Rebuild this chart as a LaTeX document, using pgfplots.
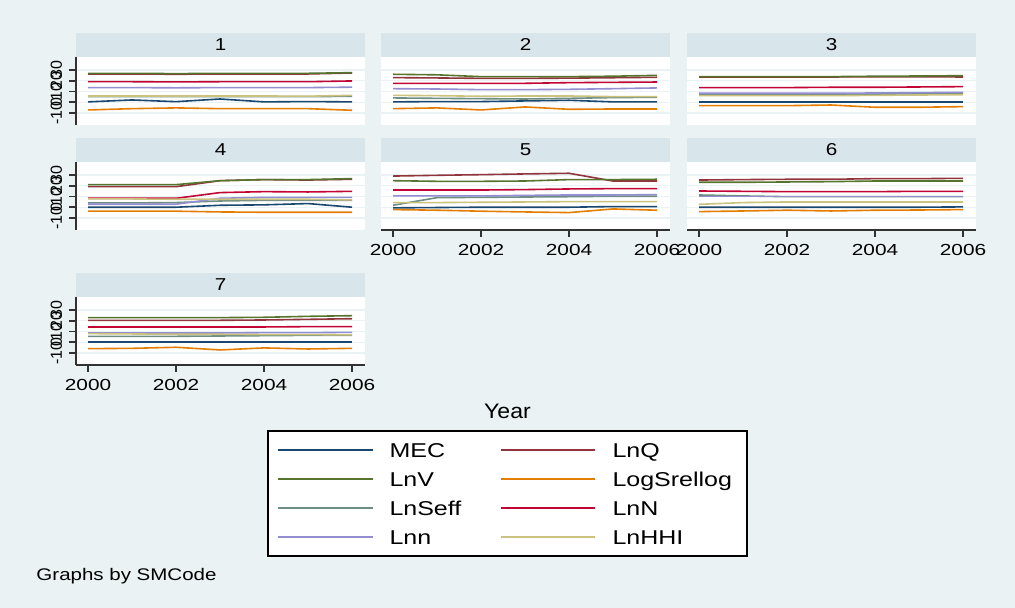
\documentclass[border=0pt]{standalone}
\usepackage{pgfplots}
\usepackage{pgfplotstable}
\pgfplotsset{compat=1.18}
\usepackage{fontspec}
\setmainfont{Liberation Sans}
\usetikzlibrary{calc}

\definecolor{bgc}{RGB}{234,242,243}
\definecolor{stripc}{RGB}{216,229,235}
\definecolor{axc}{RGB}{50,50,50}
\definecolor{cMEC}{RGB}{26,71,111}
\definecolor{cLnQ}{RGB}{144,53,59}
\definecolor{cLnV}{RGB}{85,117,47}
\definecolor{cLog}{RGB}{227,126,0}
\definecolor{cSeff}{RGB}{110,142,132}
\definecolor{cLnN}{RGB}{193,5,52}
\definecolor{cLnn}{RGB}{147,141,210}
\definecolor{cHHI}{RGB}{202,194,126}

% one table per SMCode group
\pgfplotstableread{
year MEC LnQ LnV LogSrellog LnSeff LnN Lnn LnHHI
2000 0.3 26.3 26.9 -7.2 5.2 19.1 13.6 5.8
2001 2.1 26.3 26.9 -6.0 5.2 19.1 13.6 5.8
2002 0.5 26.0 26.6 -5.3 5.2 18.9 13.4 5.8
2003 3.0 26.3 26.9 -6.0 5.2 19.1 13.6 5.8
2004 0.3 26.3 26.9 -6.0 5.2 19.1 13.6 5.8
2005 0.6 26.3 26.9 -6.0 5.2 19.1 13.6 5.6
2006 0.3 27.2 27.5 -7.5 5.5 19.8 14.0 6.4
}\tabA
\pgfplotstableread{
year MEC LnQ LnV LogSrellog LnSeff LnN Lnn LnHHI
2000 0.3 22.9 26.0 -6.0 4.0 17.6 12.6 6.4
2001 0.6 22.6 25.5 -5.3 3.6 17.6 12.3 6.1
2002 0.6 22.2 23.8 -7.2 3.3 17.6 11.7 5.5
2003 1.2 22.2 23.8 -4.4 3.0 17.6 11.7 5.8
2004 1.8 22.4 23.8 -6.6 3.6 18.2 12.0 5.8
2005 0.3 22.8 24.2 -6.3 4.3 18.5 12.6 5.2
2006 0.3 23.2 25.0 -6.3 4.6 18.8 13.3 5.2
}\tabB
\pgfplotstableread{
year MEC LnQ LnV LogSrellog LnSeff LnN Lnn LnHHI
2000 0.0 23.5 23.8 -3.2 7.4 13.6 8.3 6.1
2001 0.0 23.5 23.8 -3.2 7.4 13.6 8.3 6.1
2002 0.0 23.5 23.8 -3.2 7.4 13.6 8.3 6.1
2003 0.0 23.5 23.8 -2.6 7.4 13.9 8.3 6.1
2004 0.0 23.6 24.2 -4.7 7.6 13.9 8.6 6.4
2005 0.0 23.6 24.4 -4.7 7.8 14.2 8.9 6.7
2006 0.0 23.5 24.7 -4.1 8.0 14.5 9.2 7.0
}\tabC
\pgfplotstableread{
year MEC LnQ LnV LogSrellog LnSeff LnN Lnn LnHHI
2000 0.0 19.1 21.0 -3.7 4.0 8.3 2.8 7.7
2001 0.0 19.1 21.0 -3.7 4.0 8.3 2.8 7.7
2002 0.0 19.1 21.0 -3.7 4.3 8.3 2.8 7.4
2003 1.8 24.7 24.7 -4.4 5.8 13.6 8.3 7.4
2004 2.2 25.7 25.7 -4.7 6.4 14.5 9.2 7.4
2005 3.4 25.3 25.7 -4.7 6.4 14.2 9.2 7.4
2006 0.0 26.0 26.6 -4.7 6.4 14.8 9.2 6.8
}\tabD
\pgfplotstableread{
year MEC LnQ LnV LogSrellog LnSeff LnN Lnn LnHHI
2000 -0.6 29.0 24.7 -2.2 1.8 16.0 10.5 4.3
2001 -0.3 29.7 24.1 -2.8 8.9 16.0 10.5 4.3
2002 0.0 30.3 24.1 -3.7 9.2 16.0 10.5 4.6
2003 0.0 31.0 24.4 -4.4 9.5 16.4 11.0 4.9
2004 0.0 31.6 25.7 -5.0 9.8 17.0 11.4 5.2
2005 0.6 24.4 25.7 -1.6 10.2 17.3 11.4 5.2
2006 0.6 24.4 26.0 -2.8 10.2 17.3 11.7 5.2
}\tabE
\pgfplotstableread{
year MEC LnQ LnV LogSrellog LnSeff LnN Lnn LnHHI
2000 0.0 25.3 23.2 -4.1 11.4 15.1 9.8 2.7
2001 0.0 25.7 23.2 -3.5 10.5 14.8 9.8 4.3
2002 0.0 26.0 23.5 -2.8 9.8 14.5 9.8 4.9
2003 0.0 26.0 23.8 -3.5 9.8 14.5 9.8 4.9
2004 0.0 26.6 24.4 -2.8 9.8 14.5 9.8 4.9
2005 0.0 26.6 24.4 -2.6 9.8 14.8 9.8 4.9
2006 0.3 26.9 24.4 -2.2 9.8 14.8 9.8 4.9
}\tabF
\pgfplotstableread{
year MEC LnQ LnV LogSrellog LnSeff LnN Lnn LnHHI
2000 0.0 20.4 22.9 -6.0 5.5 14.2 8.6 8.0
2001 0.0 20.4 22.9 -5.7 5.5 14.2 8.6 7.7
2002 0.0 20.4 22.9 -4.7 5.5 14.2 8.6 7.4
2003 0.0 20.4 22.9 -7.2 5.8 14.2 8.6 7.4
2004 0.0 20.7 23.2 -5.3 6.1 14.2 8.9 7.1
2005 0.0 21.3 24.1 -6.3 6.4 14.5 8.9 7.1
2006 0.0 21.9 24.7 -5.7 6.4 14.5 9.2 6.8
}\tabG

\newcommand{\allseries}[1]{%
  \addplot[cMEC] table[x=year,y=MEC]{#1};
  \addplot[cLnQ] table[x=year,y=LnQ]{#1};
  \addplot[cLnV] table[x=year,y=LnV]{#1};
  \addplot[cLog] table[x=year,y=LogSrellog]{#1};
  \addplot[cSeff] table[x=year,y=LnSeff]{#1};
  \addplot[cLnN] table[x=year,y=LnN]{#1};
  \addplot[cLnn] table[x=year,y=Lnn]{#1};
  \addplot[cHHI] table[x=year,y=LnHHI]{#1};
}

\pgfplotsset{
  panel/.style={
    width=144.5pt, height=34pt, scale only axis, anchor=south west,
    xmin=1999.727, xmax=2006.295, ymin=-21.2, ymax=42.1,
    axis x line*=bottom, axis y line*=left,
    x axis line style={draw=none}, y axis line style={draw=none},
    axis background/.style={fill=white},
    ymajorgrids, major grid style={draw=bgc, line width=0.6pt},
    xtick={2000,2002,2004,2006}, ytick={-10,0,10,20,30},
    xticklabels={}, yticklabels={},
    major tick length=3.5pt, tick align=outside,
    xtick style={draw=none}, ytick style={draw=none},
    every axis plot/.append style={line width=0.8pt, mark=none},
    /pgf/number format/assume math mode=true,
    ticklabel style={font=\fontsize{8}{9}\selectfont},
  },
  yax/.style={
    y axis line style={draw=axc, line width=1pt},
    ytick style={draw=axc, line width=0.8pt},
    yticklabels={-10,0,10,20,30},
    yticklabel style={rotate=90, anchor=south},
  },
  xax/.style={
    x axis line style={draw=axc, line width=1pt},
    xtick style={draw=axc, line width=0.8pt},
    xticklabels={2000,2002,2004,2006},
    xticklabel style={xscale=1.3},
  },
}

\newcommand{\strip}[3]{%
  \fill[stripc] (#1,#2) rectangle ++(144.5pt,-12pt);
  \node[font=\fontsize{8.6}{10}\selectfont, xscale=1.2] at ($(#1,#2)+(72.25pt,-6pt)$) {#3};
}

\begin{document}
\begin{tikzpicture}
\path[use as bounding box] (0,0) rectangle (507.5pt,304pt);
\fill[bgc] (0,0) rectangle (507.5pt,304pt);

\strip{38pt}{287.5pt}{1}
\strip{190.5pt}{287.5pt}{2}
\strip{343.5pt}{287.5pt}{3}
\strip{38pt}{235pt}{4}
\strip{190.5pt}{235pt}{5}
\strip{343.5pt}{235pt}{6}
\strip{38pt}{167.5pt}{7}

\begin{axis}[panel, yax, at={(38pt,241.5pt)}]
\allseries{\tabA}
\end{axis}
\begin{axis}[panel, at={(190.5pt,241.5pt)}]
\allseries{\tabB}
\end{axis}
\begin{axis}[panel, at={(343.5pt,241.5pt)}]
\allseries{\tabC}
\end{axis}
\begin{axis}[panel, yax, at={(38pt,189pt)}]
\allseries{\tabD}
\end{axis}
\begin{axis}[panel, xax, at={(190.5pt,189pt)}]
\allseries{\tabE}
\end{axis}
\begin{axis}[panel, xax, at={(343.5pt,189pt)}]
\allseries{\tabF}
\end{axis}
\begin{axis}[panel, xax, yax, at={(38pt,121.5pt)}]
\allseries{\tabG}
\end{axis}

\node[font=\fontsize{10.5}{12}\selectfont, xscale=1.1] at (253.75pt,98.5pt) {Year};

% legend
\draw[black, line width=0.6pt, fill=white] (134pt,26pt) rectangle (373.5pt,88.5pt);
\begin{scope}[line width=0.8pt]
\draw[cMEC] (139pt,79pt) -- (186.5pt,79pt);
\draw[cLnQ] (250.5pt,79pt) -- (297.5pt,79pt);
\draw[cLnV] (139pt,64.5pt) -- (186.5pt,64.5pt);
\draw[cLog] (250.5pt,64.5pt) -- (297.5pt,64.5pt);
\draw[cSeff] (139pt,50pt) -- (186.5pt,50pt);
\draw[cLnN] (250.5pt,50pt) -- (297.5pt,50pt);
\draw[cLnn] (139pt,35.5pt) -- (186.5pt,35.5pt);
\draw[cHHI] (250.5pt,35.5pt) -- (297.5pt,35.5pt);
\end{scope}
\begin{scope}[every node/.style={anchor=base west, font=\fontsize{10}{12}\selectfont, xscale=1.25, inner sep=0pt}]
\node at (194.5pt,75.4pt) {MEC};
\node at (306pt,75.4pt) {LnQ};
\node at (194.5pt,60.9pt) {LnV};
\node at (306pt,60.9pt) {LogSrellog};
\node at (194.5pt,46.4pt) {LnSeff};
\node at (306pt,46.4pt) {LnN};
\node at (194.5pt,31.9pt) {Lnn};
\node at (306pt,31.9pt) {LnHHI};
\end{scope}

\node[anchor=west, inner sep=0pt, font=\fontsize{8.4}{10}\selectfont, xscale=1.22] at (18pt,16pt) {Graphs by SMCode};
\end{tikzpicture}
\end{document}
